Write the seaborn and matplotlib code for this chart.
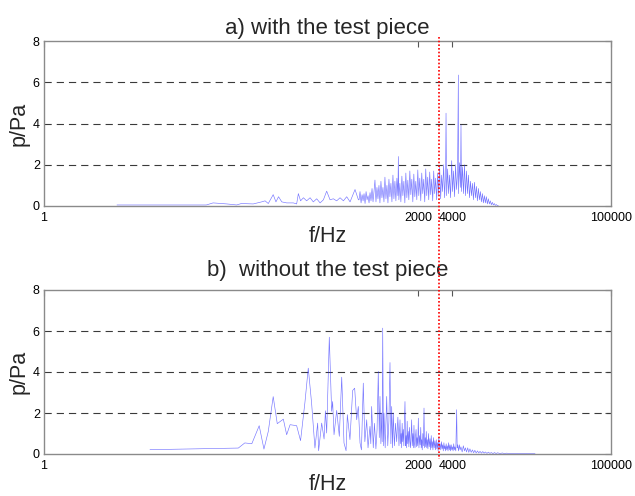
import matplotlib
matplotlib.use("Agg")
import matplotlib.pyplot as plt
import matplotlib.transforms as mtransforms
from matplotlib.lines import Line2D
from matplotlib.ticker import NullLocator
import seaborn as sns
import pandas as pd

# ---------------- data ----------------
# a) with the test piece : frequency (Hz) / pressure amplitude (Pa)
freq_a = [4.4, 27, 31, 41, 50, 55, 70, 83, 89, 95, 105, 111, 117, 125, 138, 158, 169, 175,
          183, 194, 207, 222, 237, 254, 272, 291, 311, 333, 356, 381, 408, 437, 467, 500,
          553, 592,
          600, 612, 625, 638, 651, 664, 678, 692, 706, 720, 735, 750, 765, 781, 797, 813,
          829, 846, 863, 881, 899, 917, 936, 955, 975, 995, 1015, 1036, 1057, 1079, 1101,
          1123, 1146, 1170, 1194, 1218, 1243, 1268, 1294, 1320, 1333, 1347, 1375, 1403,
          1432, 1461, 1491, 1521, 1552, 1584, 1616, 1649, 1683, 1717, 1752, 1788, 1825,
          1862, 1900, 1939, 1978, 2018, 2059, 2101, 2144, 2188, 2233, 2278, 2325, 2372,
          2420, 2470, 2520, 2571, 2624, 2677, 2732, 2787, 2844, 2902, 2961, 3021, 3083,
          3146, 3210, 3275, 3342, 3410, 3480, 3510, 3551, 3623, 3697, 3772, 3849, 3937,
          4008, 4089, 4173, 4258, 4345, 4433, 4508, 4523, 4615, 4709, 4755, 4805, 4903,
          5003, 5105, 5209, 5315, 5423, 5534, 5647, 5762, 5879, 5999, 6121, 6246, 6373,
          6503, 6635, 6771, 6909, 7050, 7193, 7340, 7489, 7642, 7798, 7957, 8119, 8285,
          8454, 8626, 8802, 8982, 9165, 9352, 9542, 9737, 9935, 10150]
amp_a = [0.05, 0.05, 0.15, 0.1, 0.05, 0.12, 0.1, 0.2, 0.25, 0.12, 0.55, 0.2, 0.45, 0.2, 0.15,
         0.15, 0.1, 0.6, 0.25, 0.4, 0.25, 0.4, 0.2, 0.35, 0.15, 0.3, 0.72, 0.3, 0.35, 0.25,
         0.4, 0.25, 0.45, 0.2, 0.8, 0.3,
         0.3, 0.7, 0.15, 0.55, 0.25, 0.6, 0.12, 0.7, 0.3, 0.5, 0.15, 0.65, 0.25, 0.85, 0.2,
         0.7, 1.26, 0.2, 0.9, 0.35, 1.0, 0.15, 1.2, 0.4, 0.9, 0.2, 1.4, 0.35, 1.0, 0.15,
         1.3, 0.45, 1.1, 0.2, 1.5, 0.35, 1.2, 0.25, 1.35, 0.5, 2.4, 0.3, 1.1, 0.2, 1.45,
         0.5, 1.2, 0.15, 1.6, 0.4, 1.25, 0.3, 1.7, 0.55, 1.3, 0.2, 1.55, 0.45, 1.2, 0.3,
         1.75, 0.5, 1.35, 0.25, 1.6, 0.6, 1.3, 0.2, 1.8, 0.5, 1.4, 0.3, 1.65, 0.55, 1.3,
         0.25, 1.7, 0.6, 1.35, 0.3, 1.6, 0.55, 1.9, 0.35, 1.5, 0.7, 2.0, 0.4, 1.7, 4.5,
         0.5, 1.8, 0.6, 1.5, 0.4, 2.2, 0.7, 1.7, 0.45, 2.0, 0.8, 1.6, 6.35, 0.6, 2.1, 0.9,
         3.93, 0.7, 1.9, 0.6, 2.0, 0.5, 1.7, 0.6, 1.5, 0.4, 1.2, 0.5, 1.1, 0.3, 1.15, 0.4,
         0.95, 0.25, 0.85, 0.3, 0.7, 0.2, 0.6, 0.15, 0.5, 0.15, 0.45, 0.1, 0.35, 0.1, 0.25,
         0.06, 0.18, 0.05, 0.12, 0.03, 0.07, 0.02, 0.02]

# b) without the test piece
freq_b = [8.6, 51.7, 59, 68, 79, 87, 95, 105, 114, 129, 138, 148, 169, 183, 200, 214, 229,
          245, 259, 264, 281, 295, 303, 311, 328, 344, 351, 361, 381, 402, 422, 442, 461,
          473, 499, 527, 549, 572, 591, 612, 630, 654, 675, 701, 720, 749, 762, 775, 801,
          820, 845, 865, 887, 905, 918, 935, 950, 960, 970, 985, 996, 1020, 1052, 1075,
          1100, 1125, 1145, 1164, 1185,
          1203, 1230, 1260, 1288, 1320, 1350, 1378, 1395, 1410, 1425, 1440, 1457, 1474,
          1490, 1500, 1525, 1545, 1560, 1578, 1595, 1613, 1632, 1650, 1670, 1690, 1710,
          1728, 1746, 1768, 1790, 1810, 1830, 1850, 1869, 1890, 1910, 1930, 1950, 1975,
          2000, 2025, 2050, 2075, 2100, 2120, 2141, 2165, 2190, 2215, 2244, 2270, 2300,
          2325, 2350, 2375, 2400, 2430, 2460, 2495, 2535, 2565, 2600, 2630, 2660, 2690,
          2720, 2760, 2800, 2840, 2880, 2915, 2950, 2990, 3030, 3070, 3110, 3155, 3200,
          3240, 3280, 3320, 3360, 3400, 3437, 3480, 3520, 3565, 3610, 3655, 3700, 3750,
          3804, 3850, 3900, 3950, 4000, 4050, 4100, 4150, 4200, 4280, 4355, 4400, 4450,
          4525, 4600, 4675, 4750, 4870, 4988, 5100, 5200, 5320, 5450, 5570, 5700, 5850,
          6000, 6150, 6300, 6470, 6650, 6820, 7000, 7200, 7400, 7600, 7800, 8050, 8300,
          8550, 8800, 9100, 9400, 9700, 10000, 10500, 11000, 11500, 12000, 12860, 13800,
          15000, 16500, 18000, 21380]
amp_b = [0.21, 0.29, 0.54, 0.5, 1.38, 0.24, 1.1, 2.8, 1.48, 1.7, 0.94, 1.43, 1.38, 0.65,
         2.52, 4.19, 2.48, 0.29, 1.51, 0.16, 1.51, 0.73, 2.11, 1.02, 5.7, 2.08, 2.56, 0.94,
         2.13, 0.86, 3.75, 0.54, 0.16, 1.92, 0.7, 3.1, 3.21, 1.67, 2.32, 0.54, 0.2, 3.46,
         0.6, 1.67, 0.3, 1.35, 0.5, 2.32, 0.3, 1.5, 0.25, 1.2, 4.03, 0.8, 2.81, 0.5, 2.0,
         0.6, 6.14, 0.4, 2.0, 0.3, 2.81, 0.4, 1.6, 4.46, 0.5, 2.32, 0.3,
         2.0, 0.4, 1.5, 0.6, 1.8, 0.4, 1.67, 0.5, 1.0, 0.3, 1.5, 0.6, 1.2, 0.4, 1.1, 2.56,
         0.4, 0.9, 0.3, 1.6, 0.5, 1.1, 0.35, 1.3, 0.6, 0.3, 1.0, 1.67, 0.4, 1.0, 0.3, 1.4,
         0.5, 0.3, 0.9, 1.2, 0.35, 0.8, 0.4, 1.75, 0.3, 0.9, 0.45, 1.3, 0.3, 0.7, 0.2,
         1.0, 0.4, 2.24, 0.3, 0.8, 0.35, 1.1, 0.3, 0.7, 0.25, 1.0, 0.35, 0.75, 0.2, 0.9,
         0.3, 0.6, 0.2, 0.8, 0.3, 0.65, 0.2, 0.7, 0.25, 0.55, 0.15, 0.8, 0.3, 0.5, 0.2,
         0.6, 0.25, 0.45, 0.15, 0.55, 0.25, 0.4, 0.15, 0.5, 0.2, 0.4, 0.15, 0.55, 0.2,
         0.45, 0.15, 0.45, 0.2, 0.35, 0.15, 0.5, 0.2, 0.35, 0.15, 2.16, 0.3, 0.45, 0.15,
         0.45, 0.2, 0.35, 0.1, 0.4, 0.15, 0.3, 0.1, 0.3, 0.08, 0.25, 0.08, 0.2, 0.06, 0.18,
         0.05, 0.15, 0.05, 0.13, 0.04, 0.12, 0.04, 0.1, 0.03, 0.09, 0.03, 0.07, 0.02, 0.07,
         0.02, 0.06, 0.02, 0.05, 0.02, 0.04, 0.02, 0.03, 0.02, 0.03, 0.02, 0.02]

titles = ["a) with the test piece", "b)  without the test piece"]
x_ticks = [1, 2000, 4000, 100000]
x_tick_labels = ["1", "2000", "4000", "100000"]
y_ticks = [0, 2, 4, 6, 8]
grid_levels = [2, 4, 6]
marker_freq = 3050  # red dotted reference frequency line

# ---------------- drawing ----------------
sns.set_style("white")
plt.rcParams["font.family"] = ["Liberation Sans", "DejaVu Sans"]

W, H = 635, 496
fig = plt.figure(figsize=(W / 100, H / 100), dpi=100)
ax_a = fig.add_axes([44 / W, 1 - 206 / H, 567 / W, 165 / H])
ax_b = fig.add_axes([44 / W, 1 - 454 / H, 567 / W, 164 / H])

series = [(ax_a, freq_a, amp_a, titles[0], 5), (ax_b, freq_b, amp_b, titles[1], 10)]
for ax, f, p, title, tpad in series:
    df = pd.DataFrame({"f": f, "p": p})
    sns.lineplot(data=df, x="f", y="p", ax=ax, estimator=None, sort=False,
                 color="#2a2aff", lw=0.45, alpha=0.65)
    ax.set_xscale("log")
    ax.set_xlim(x_ticks[0], x_ticks[-1])
    ax.set_ylim(y_ticks[0], y_ticks[-1])
    ax.set_xticks(x_ticks)
    ax.set_xticklabels(x_tick_labels)
    ax.xaxis.set_minor_locator(NullLocator())
    ax.set_yticks(y_ticks)
    for lev in grid_levels:
        ax.axhline(lev, color="#3a3a3a", lw=0.8, dashes=(6.5, 4.5), zorder=1)
    ax.tick_params(direction="in", length=4, width=0.8, colors="#555555",
                   labelcolor="black", labelsize=9, top=True, right=True, pad=3)
    ax.tick_params(axis="x", pad=4)
    for s in ax.spines.values():
        s.set_color("#8a8a8a")
        s.set_linewidth(1.0)
    ax.set_xlabel("f/Hz", fontsize=15.5, labelpad=2)
    ax.set_ylabel("p/Pa", fontsize=15.5, labelpad=2)
    ax.set_title(title, fontsize=16, pad=tpad)

# red dotted frequency marker spanning both panels
trans = mtransforms.blended_transform_factory(ax_a.transData, fig.transFigure)
fig.add_artist(Line2D([marker_freq, marker_freq], [1 - 37 / H, 1 - 459 / H],
                      transform=trans, color="red", lw=1.2, linestyle=(0, (1, 1.2))))

fig.savefig("out.png", dpi=100)
